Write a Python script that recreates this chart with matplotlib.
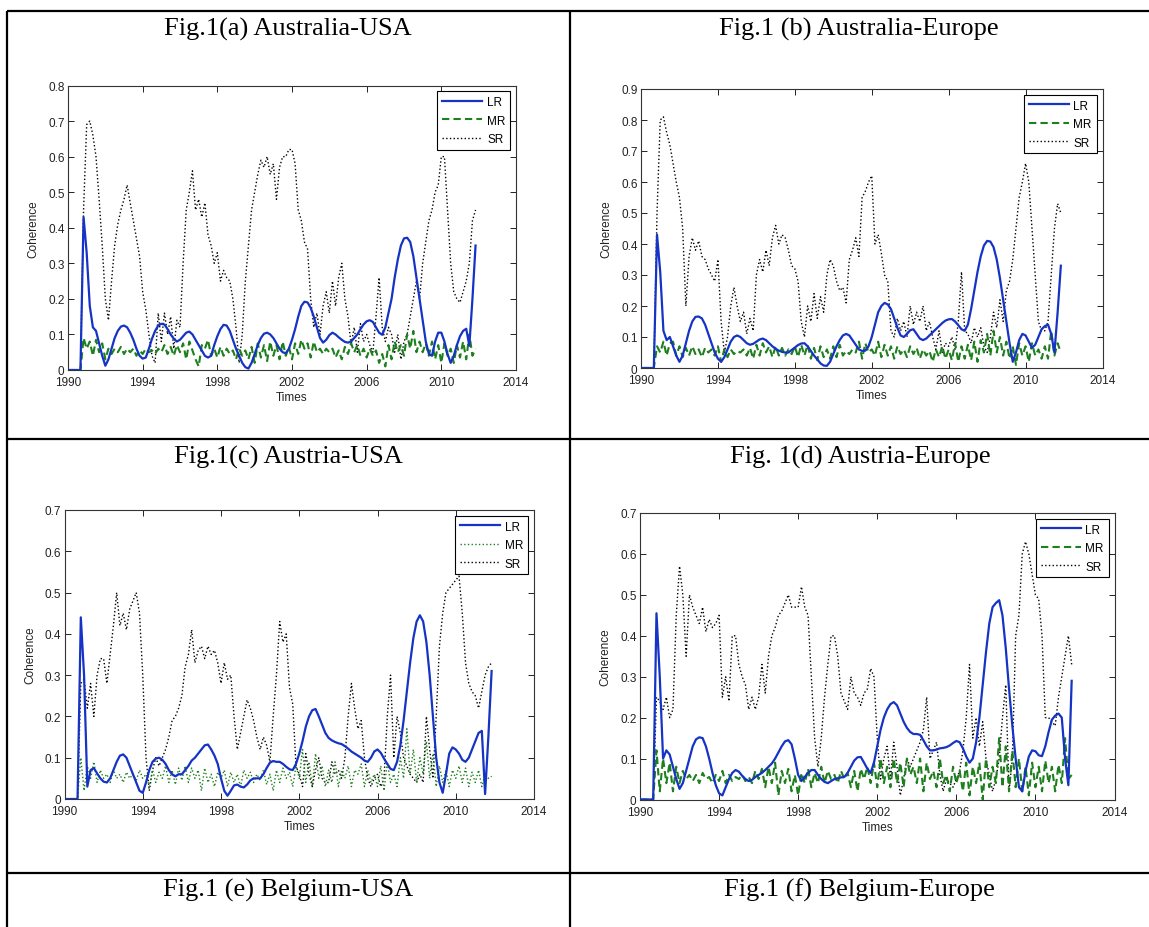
import numpy as np
import matplotlib
matplotlib.use("Agg")
import matplotlib.pyplot as plt
from matplotlib.lines import Line2D

W, H = 1149, 928

# two-month time grid, Jan 1990 .. Nov 2011
t = 1990 + np.arange(132) / 6.0

# ---------------- Fig.1(a) Australia-USA ----------------
lr_a = [0, 0, 0, 0, 0, 0.43,
        0.33, 0.18, 0.12, 0.11, 0.075, 0.04,
        0.012, 0.03, 0.06, 0.09, 0.11, 0.122,
        0.125, 0.12, 0.105, 0.085, 0.06, 0.04,
        0.032, 0.035, 0.06, 0.088, 0.11, 0.125,
        0.13, 0.128, 0.115, 0.1, 0.088, 0.08,
        0.085, 0.095, 0.105, 0.108, 0.1, 0.085,
        0.07, 0.055, 0.04, 0.035, 0.04, 0.07,
        0.095, 0.115, 0.127, 0.125, 0.11, 0.085,
        0.06, 0.04, 0.02, 0.008, 0.004, 0.02,
        0.045, 0.07, 0.09, 0.102, 0.105, 0.1,
        0.09, 0.075, 0.06, 0.05, 0.047, 0.06,
        0.085, 0.115, 0.15, 0.18, 0.192, 0.19,
        0.175, 0.15, 0.12, 0.09, 0.077, 0.085,
        0.098, 0.105, 0.1, 0.092, 0.085, 0.079,
        0.077, 0.08, 0.09, 0.1, 0.115, 0.128,
        0.137, 0.14, 0.135, 0.12, 0.105, 0.099,
        0.12, 0.16, 0.2, 0.26, 0.31, 0.35,
        0.37, 0.372, 0.36, 0.32, 0.26, 0.2,
        0.14, 0.08, 0.045, 0.04, 0.08, 0.105,
        0.105, 0.08, 0.045, 0.02, 0.04, 0.07,
        0.095, 0.11, 0.116, 0.068, 0.2, 0.35]
mr_a = [0, 0, 0, 0, 0, 0.09,
        0.06, 0.08, 0.04, 0.085, 0.05, 0.075,
        0.03, 0.06, 0.045, 0.06, 0.05, 0.065,
        0.045, 0.06, 0.05, 0.06, 0.04, 0.055,
        0.045, 0.06, 0.05, 0.055, 0.045, 0.06,
        0.05, 0.07, 0.045, 0.065, 0.04, 0.07,
        0.05, 0.075, 0.03, 0.08, 0.055, 0.03,
        0.01, 0.07, 0.06, 0.085, 0.04, 0.06,
        0.035, 0.065, 0.04, 0.06, 0.045, 0.055,
        0.03, 0.06, 0.04, 0.055, 0.03, 0.065,
        0.02, 0.075, 0.035, 0.07, 0.025, 0.08,
        0.04, 0.07, 0.03, 0.08, 0.04, 0.065,
        0.03, 0.075, 0.045, 0.085, 0.06, 0.075,
        0.035, 0.08, 0.05, 0.06, 0.045, 0.06,
        0.05, 0.06, 0.035, 0.055, 0.03, 0.065,
        0.045, 0.075, 0.05, 0.07, 0.04, 0.06,
        0.035, 0.06, 0.04, 0.055, 0.02, 0.045,
        0.01, 0.07, 0.03, 0.08, 0.05, 0.07,
        0.04, 0.1, 0.06, 0.11, 0.05, 0.08,
        0.05, 0.075, 0.04, 0.08, 0.03, 0.07,
        0.02, 0.075, 0.04, 0.06, 0.02, 0.07,
        0.035, 0.08, 0.03, 0.1, 0.04, 0.06]
sr_a = [0, 0, 0, 0, 0, 0.45,
        0.69, 0.7, 0.66, 0.6, 0.48, 0.35,
        0.2, 0.14, 0.25, 0.35, 0.41, 0.45,
        0.48, 0.52, 0.47, 0.42, 0.37, 0.32,
        0.22, 0.17, 0.1, 0.04, 0.02, 0.16,
        0.08, 0.16, 0.1, 0.15, 0.06, 0.14,
        0.12, 0.3, 0.45, 0.5, 0.56, 0.45,
        0.48, 0.43, 0.47, 0.38, 0.35, 0.3,
        0.33, 0.25, 0.28, 0.26, 0.25, 0.2,
        0.12, 0.02, 0.1, 0.25, 0.35, 0.45,
        0.5, 0.55, 0.59, 0.57, 0.6, 0.55,
        0.58, 0.48, 0.57, 0.6, 0.6, 0.62,
        0.62, 0.58, 0.45, 0.42, 0.36, 0.34,
        0.2, 0.12, 0.16, 0.1, 0.18, 0.22,
        0.16, 0.25, 0.18, 0.26, 0.3, 0.2,
        0.15, 0.07, 0.12, 0.05, 0.13, 0.08,
        0.1, 0.07, 0.05, 0.15, 0.26, 0.12,
        0.08, 0.12, 0.1, 0.05, 0.1, 0.03,
        0.08, 0.1, 0.15, 0.2, 0.25, 0.2,
        0.3, 0.36, 0.42, 0.45, 0.5, 0.52,
        0.6, 0.6, 0.45, 0.3, 0.22, 0.2,
        0.19, 0.22, 0.25, 0.3, 0.42, 0.45]

# ---------------- Fig.1(b) Australia-Europe ----------------
lr_b = [0, 0, 0, 0, 0, 0.43,
        0.31, 0.12, 0.09, 0.1, 0.07, 0.04,
        0.02, 0.04, 0.08, 0.12, 0.15, 0.165,
        0.166, 0.16, 0.14, 0.11, 0.08, 0.05,
        0.03, 0.02, 0.035, 0.06, 0.085, 0.1,
        0.105, 0.1, 0.09, 0.08, 0.075, 0.078,
        0.085, 0.092, 0.095, 0.09, 0.08, 0.07,
        0.062, 0.056, 0.052, 0.05, 0.05, 0.058,
        0.066, 0.074, 0.079, 0.08, 0.07, 0.055,
        0.04, 0.028, 0.015, 0.008, 0.007, 0.02,
        0.045, 0.07, 0.09, 0.105, 0.11, 0.105,
        0.09, 0.075, 0.06, 0.055, 0.056, 0.07,
        0.1, 0.14, 0.18, 0.2, 0.21, 0.205,
        0.19, 0.16, 0.13, 0.105, 0.1, 0.11,
        0.122, 0.125, 0.11, 0.095, 0.09, 0.095,
        0.105, 0.115, 0.125, 0.135, 0.145, 0.153,
        0.157, 0.158, 0.15, 0.138, 0.125, 0.12,
        0.14, 0.19, 0.25, 0.31, 0.36, 0.395,
        0.41, 0.408, 0.39, 0.35, 0.29, 0.22,
        0.15, 0.08, 0.02, 0.05, 0.09, 0.11,
        0.105, 0.085, 0.065, 0.075, 0.1, 0.125,
        0.135, 0.14, 0.11, 0.05, 0.18, 0.33]
mr_b = [0, 0, 0, 0, 0, 0.07,
        0.05, 0.085, 0.04, 0.08, 0.085, 0.04,
        0.07, 0.035, 0.065, 0.04, 0.07, 0.045,
        0.06, 0.035, 0.065, 0.05, 0.06, 0.04,
        0.07, 0.02, 0.06, 0.035, 0.06, 0.045,
        0.055, 0.05, 0.06, 0.04, 0.065, 0.03,
        0.075, 0.04, 0.08, 0.05, 0.07, 0.035,
        0.07, 0.04, 0.065, 0.04, 0.06, 0.045,
        0.07, 0.035, 0.075, 0.04, 0.075, 0.03,
        0.065, 0.025, 0.07, 0.035, 0.06, 0.03,
        0.07, 0.035, 0.075, 0.04, 0.055, 0.045,
        0.06, 0.05, 0.085, 0.03, 0.08, 0.05,
        0.06, 0.04, 0.085, 0.035, 0.075, 0.04,
        0.07, 0.03, 0.07, 0.045, 0.06, 0.035,
        0.07, 0.045, 0.065, 0.03, 0.06, 0.04,
        0.055, 0.02, 0.06, 0.035, 0.07, 0.03,
        0.06, 0.025, 0.08, 0.02, 0.07, 0.03,
        0.075, 0.025, 0.085, 0.02, 0.09, 0.05,
        0.11, 0.04, 0.12, 0.05, 0.1, 0.04,
        0.085, 0.03, 0.07, 0.01, 0.08, 0.04,
        0.07, 0.02, 0.08, 0.04, 0.06, 0.03,
        0.07, 0.03, 0.12, 0.04, 0.08, 0.05]
sr_b = [0, 0, 0, 0, 0, 0.5,
        0.8, 0.81, 0.76, 0.72, 0.66, 0.6,
        0.55, 0.45, 0.2, 0.36, 0.42, 0.38,
        0.41, 0.36, 0.35, 0.32, 0.3, 0.28,
        0.35, 0.15, 0.05, 0.1, 0.2, 0.26,
        0.2, 0.15, 0.18, 0.11, 0.16, 0.12,
        0.3, 0.35, 0.31, 0.38, 0.33, 0.42,
        0.46, 0.4, 0.43, 0.42, 0.38, 0.33,
        0.32, 0.28, 0.15, 0.1, 0.2, 0.15,
        0.24, 0.16, 0.23, 0.18, 0.3, 0.35,
        0.33, 0.28, 0.25, 0.26, 0.21, 0.35,
        0.38, 0.42, 0.36, 0.55, 0.57, 0.6,
        0.62, 0.4, 0.43, 0.37, 0.3, 0.28,
        0.12, 0.1, 0.16, 0.12, 0.15, 0.1,
        0.2, 0.14, 0.18, 0.15, 0.2, 0.12,
        0.15, 0.1, 0.06, 0.12, 0.05, 0.08,
        0.07, 0.1, 0.06, 0.15, 0.31, 0.12,
        0.11, 0.08, 0.13, 0.1, 0.13, 0.07,
        0.05, 0.1, 0.18, 0.13, 0.22, 0.15,
        0.25, 0.28, 0.35, 0.45, 0.55, 0.6,
        0.66, 0.6, 0.45, 0.3, 0.15, 0.12,
        0.12, 0.15, 0.3, 0.45, 0.53, 0.5]

# ---------------- Fig.1(c) Austria-USA ----------------
lr_c = [0, 0, 0, 0, 0, 0.44,
        0.3, 0.03, 0.07, 0.075, 0.062, 0.05,
        0.042, 0.04, 0.05, 0.07, 0.09, 0.105,
        0.108, 0.1, 0.08, 0.06, 0.04, 0.02,
        0.015, 0.04, 0.07, 0.09, 0.098, 0.1,
        0.095, 0.085, 0.07, 0.06, 0.055, 0.06,
        0.06, 0.07, 0.08, 0.093, 0.1, 0.11,
        0.12, 0.13, 0.132, 0.12, 0.105, 0.085,
        0.05, 0.02, 0.008, 0.02, 0.033, 0.035,
        0.03, 0.028, 0.035, 0.045, 0.05, 0.05,
        0.05, 0.06, 0.075, 0.088, 0.092, 0.09,
        0.09, 0.085, 0.078, 0.072, 0.07, 0.085,
        0.11, 0.14, 0.175, 0.2, 0.215, 0.218,
        0.2, 0.18, 0.16, 0.148, 0.142, 0.138,
        0.135, 0.133, 0.128, 0.122, 0.115, 0.11,
        0.105, 0.1, 0.093, 0.09, 0.1, 0.115,
        0.12, 0.112, 0.098, 0.085, 0.073, 0.07,
        0.09, 0.13, 0.19, 0.26, 0.33, 0.39,
        0.43, 0.445, 0.43, 0.38, 0.3, 0.2,
        0.1, 0.04, 0.015, 0.06, 0.11, 0.125,
        0.12, 0.11, 0.095, 0.09, 0.1, 0.12,
        0.14, 0.16, 0.165, 0.012, 0.15, 0.31]
mr_c = [0, 0, 0, 0, 0, 0.1,
        0.02, 0.08, 0.05, 0.09, 0.04, 0.07,
        0.05, 0.06, 0.04, 0.07, 0.05, 0.06,
        0.04, 0.065, 0.05, 0.06, 0.045, 0.07,
        0.05, 0.06, 0.03, 0.07, 0.04, 0.065,
        0.05, 0.08, 0.04, 0.07, 0.035, 0.075,
        0.045, 0.08, 0.04, 0.075, 0.05, 0.07,
        0.02, 0.075, 0.04, 0.06, 0.03, 0.065,
        0.05, 0.07, 0.03, 0.065, 0.04, 0.06,
        0.03, 0.07, 0.05, 0.065, 0.04, 0.06,
        0.045, 0.07, 0.035, 0.06, 0.02, 0.07,
        0.04, 0.075, 0.05, 0.065, 0.03, 0.08,
        0.05, 0.12, 0.04, 0.09, 0.03, 0.11,
        0.05, 0.08, 0.03, 0.07, 0.04, 0.09,
        0.03, 0.07, 0.05, 0.08, 0.03, 0.07,
        0.06, 0.085, 0.03, 0.07, 0.04, 0.06,
        0.03, 0.08, 0.02, 0.09, 0.04, 0.06,
        0.03, 0.1, 0.05, 0.17, 0.06, 0.12,
        0.04, 0.1, 0.06, 0.14, 0.05, 0.11,
        0.03, 0.08, 0.04, 0.07, 0.03, 0.07,
        0.05, 0.08, 0.04, 0.075, 0.03, 0.065,
        0.04, 0.07, 0.03, 0.06, 0.05, 0.055]
sr_c = [0, 0, 0, 0, 0, 0.28,
        0.29, 0.22, 0.28, 0.2, 0.3, 0.34,
        0.34, 0.28, 0.35, 0.42, 0.5, 0.42,
        0.45, 0.41, 0.46, 0.48, 0.5, 0.45,
        0.3, 0.1, 0.02, 0.07, 0.1, 0.08,
        0.1, 0.12, 0.15, 0.19, 0.2, 0.22,
        0.25, 0.32, 0.35, 0.41, 0.33, 0.36,
        0.37, 0.34, 0.37, 0.35, 0.36, 0.33,
        0.28, 0.33, 0.29, 0.3, 0.2, 0.12,
        0.16, 0.2, 0.24, 0.22, 0.19, 0.15,
        0.12, 0.15, 0.13, 0.09, 0.2, 0.3,
        0.43, 0.38, 0.4, 0.27, 0.23, 0.08,
        0.06, 0.03, 0.11, 0.06, 0.03, 0.07,
        0.1, 0.05, 0.04, 0.04, 0.09, 0.06,
        0.07, 0.05, 0.1, 0.2, 0.28, 0.22,
        0.17, 0.19, 0.1, 0.05, 0.03, 0.05,
        0.06, 0.03, 0.05, 0.2, 0.3, 0.1,
        0.2, 0.16, 0.1, 0.08, 0.06, 0.05,
        0.04, 0.06, 0.04, 0.2, 0.12, 0.05,
        0.2, 0.37, 0.45, 0.5, 0.51, 0.52,
        0.53, 0.54, 0.45, 0.33, 0.28, 0.26,
        0.25, 0.22, 0.26, 0.3, 0.32, 0.33]

# ---------------- Fig.1(d) Austria-Europe ----------------
lr_d = [0, 0, 0, 0, 0, 0.455,
        0.3, 0.1, 0.12, 0.11, 0.08, 0.05,
        0.026, 0.04, 0.07, 0.1, 0.13, 0.147,
        0.152, 0.15, 0.13, 0.1, 0.065, 0.035,
        0.015, 0.01, 0.03, 0.05, 0.065, 0.072,
        0.068, 0.058, 0.05, 0.045, 0.048, 0.055,
        0.06, 0.065, 0.072, 0.08, 0.088, 0.1,
        0.115, 0.13, 0.142, 0.145, 0.135, 0.1,
        0.06, 0.045, 0.055, 0.065, 0.072, 0.072,
        0.06, 0.05, 0.043, 0.04, 0.045, 0.05,
        0.052, 0.054, 0.055, 0.065, 0.08, 0.095,
        0.103, 0.104, 0.09, 0.075, 0.065, 0.09,
        0.13, 0.17, 0.2, 0.22, 0.233, 0.238,
        0.23, 0.21, 0.19, 0.175, 0.165, 0.16,
        0.16, 0.158, 0.145, 0.13, 0.12, 0.12,
        0.122, 0.125, 0.126, 0.128, 0.132, 0.138,
        0.143, 0.14, 0.125, 0.105, 0.09, 0.1,
        0.14, 0.2, 0.28, 0.36, 0.43, 0.47,
        0.48, 0.487, 0.45, 0.37, 0.27, 0.18,
        0.1, 0.03, 0.02, 0.07, 0.105, 0.12,
        0.118, 0.108, 0.106, 0.13, 0.165, 0.195,
        0.205, 0.21, 0.2, 0.1, 0.035, 0.29]
mr_d = [0, 0, 0, 0, 0, 0.12,
        0.02, 0.1, 0.04, 0.09, 0.02, 0.08,
        0.04, 0.07, 0.05, 0.06, 0.045, 0.06,
        0.04, 0.065, 0.05, 0.055, 0.04, 0.06,
        0.045, 0.07, 0.04, 0.06, 0.045, 0.055,
        0.05, 0.06, 0.045, 0.055, 0.04, 0.07,
        0.05, 0.075, 0.03, 0.08, 0.04, 0.09,
        0.01, 0.07, 0.04, 0.075, 0.02, 0.06,
        0.01, 0.065, 0.04, 0.075, 0.03, 0.065,
        0.04, 0.08, 0.04, 0.07, 0.05, 0.06,
        0.04, 0.07, 0.05, 0.065, 0.03, 0.07,
        0.02, 0.075, 0.05, 0.08, 0.04, 0.09,
        0.03, 0.1, 0.04, 0.08, 0.03, 0.1,
        0.04, 0.09, 0.03, 0.1, 0.06, 0.08,
        0.04, 0.1, 0.02, 0.09, 0.05, 0.07,
        0.03, 0.1, 0.04, 0.06, 0.02, 0.08,
        0.04, 0.07, 0.02, 0.09, 0.01, 0.08,
        0.04, 0.09, 0.0, 0.1, 0.03, 0.08,
        0.04, 0.15, 0.03, 0.13, 0.02, 0.12,
        0.03, 0.1, 0.02, 0.08, 0.01, 0.09,
        0.03, 0.08, 0.02, 0.095, 0.04, 0.08,
        0.02, 0.085, 0.04, 0.15, 0.05, 0.06]
sr_d = [0, 0, 0, 0, 0, 0.25,
        0.24, 0.22, 0.25, 0.2, 0.22, 0.45,
        0.57, 0.5, 0.35, 0.5, 0.47, 0.45,
        0.43, 0.47, 0.41, 0.44, 0.42, 0.43,
        0.45, 0.25, 0.3, 0.24, 0.4, 0.4,
        0.33, 0.3, 0.28, 0.22, 0.25, 0.22,
        0.25, 0.33, 0.26, 0.35, 0.4, 0.42,
        0.45, 0.46, 0.48, 0.5, 0.47, 0.47,
        0.47, 0.52, 0.47, 0.45, 0.3, 0.15,
        0.08, 0.15, 0.25, 0.33, 0.4, 0.4,
        0.35, 0.26, 0.24, 0.22, 0.3, 0.26,
        0.25, 0.23, 0.26, 0.27, 0.32, 0.3,
        0.15, 0.05, 0.1, 0.13, 0.05, 0.14,
        0.08, 0.01, 0.05, 0.1, 0.08, 0.1,
        0.12, 0.14, 0.17, 0.25, 0.1, 0.12,
        0.14, 0.06, 0.02, 0.05, 0.04, 0.03,
        0.05, 0.07, 0.12, 0.2, 0.33, 0.15,
        0.2, 0.13, 0.19, 0.1, 0.06, 0.02,
        0.05, 0.1, 0.2, 0.28, 0.02, 0.1,
        0.4, 0.45, 0.6, 0.63, 0.6, 0.55,
        0.5, 0.49, 0.4, 0.2, 0.2, 0.19,
        0.18, 0.25, 0.3, 0.35, 0.4, 0.33]

series_labels = ["LR", "MR", "SR"]
year_ticks = [1990, 1994, 1998, 2002, 2006, 2010, 2014]

captions = [
    ("Fig.1(a) Australia-USA", 288, 29),
    ("Fig.1 (b) Australia-Europe", 859, 29),
    ("Fig.1(c) Austria-USA", 288, 457),
    ("Fig. 1(d) Austria-Europe", 860, 457),
    ("Fig.1 (e) Belgium-USA", 288, 890),
    ("Fig.1 (f) Belgium-Europe", 859, 890),
]

BLUE = "#1533c4"
GREEN = "#1d7f1d"
SANS = "Liberation Sans"

# panels: (left, top, right, bottom) in pixels, y max, series, MR drawn dotted?
panels = [
    ((68, 86.5, 516, 371), 0.8, (lr_a, mr_a, sr_a), False),
    ((641, 90, 1102.5, 369), 0.9, (lr_b, mr_b, sr_b), False),
    ((64.5, 511, 534, 800), 0.7, (lr_c, mr_c, sr_c), True),
    ((640, 514, 1114.5, 800.5), 0.7, (lr_d, mr_d, sr_d), False),
]

fig = plt.figure(figsize=(W / 100, H / 100), dpi=100)
fig.patch.set_facecolor("white")

for (l, tp, r, b), ymax, (lr, mr, sr), mr_dotted in panels:
    ax = fig.add_axes([l / W, 1 - b / H, (r - l) / W, (b - tp) / H])
    ax.plot(t, lr, color=BLUE, lw=1.6, label=series_labels[0], zorder=4)
    if mr_dotted:
        ax.plot(t, mr, color=GREEN, lw=1.0, linestyle=":", label=series_labels[1], zorder=3)
    else:
        ax.plot(t, mr, color=GREEN, lw=1.5, dashes=(3.5, 2.0), label=series_labels[1], zorder=3)
    ax.plot(t, sr, color="black", lw=1.0, linestyle=":", label=series_labels[2], zorder=2)

    ax.set_xlim(1990, 2014)
    ax.set_ylim(0, ymax)
    ax.set_xticks(year_ticks)
    ax.set_xticklabels([str(y) for y in year_ticks], family=SANS, fontsize=8.5)
    yt = np.round(np.arange(0, ymax + 0.001, 0.1), 1)
    ax.set_yticks(yt)
    ax.set_yticklabels([f"{v:g}" for v in yt], family=SANS, fontsize=8.5)
    ax.tick_params(direction="in", top=True, right=True, length=4, width=0.7,
                   colors="#222222")
    ax.tick_params(axis="x", pad=4.5)
    ax.tick_params(axis="y", pad=2.5)
    for sp in ax.spines.values():
        sp.set_linewidth(0.8)
        sp.set_color("#333333")
    ax.set_xlabel("Times", family=SANS, fontsize=8.5, labelpad=2, color="#222222")
    ax.set_ylabel("Coherence", family=SANS, fontsize=8.5, labelpad=6, color="#222222")

    leg = ax.legend(loc="upper right", prop={"family": SANS, "size": 8.5},
                    fancybox=False, framealpha=1, edgecolor="black",
                    handlelength=3.4, handletextpad=0.4, borderpad=0.4,
                    labelspacing=0.55, borderaxespad=0.5)
    leg.get_frame().set_linewidth(0.8)

for text, cx, cy in captions:
    fig.text(cx / W, 1 - cy / H, text, ha="center", va="center",
             family="Liberation Serif", fontsize=19, color="black")

# table rules
def rule(x0, y0, x1, y1):
    fig.add_artist(Line2D([x0 / W, x1 / W], [1 - y0 / H, 1 - y1 / H],
                          transform=fig.transFigure, color="black", lw=1.6,
                          solid_capstyle="butt"))

rule(7, 12, W, 12)
rule(7, 440, W, 440)
rule(7, 874, W, 874)
rule(7, 12, 7, H)
rule(570, 12, 570, H)

fig.savefig("out.png", dpi=100, facecolor="white")
